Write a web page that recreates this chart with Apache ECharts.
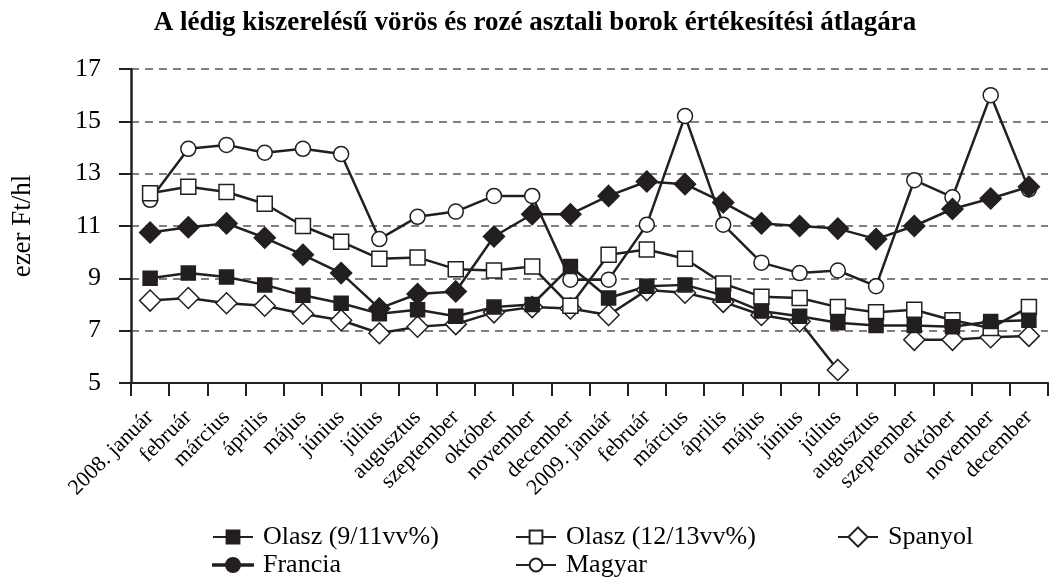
<!DOCTYPE html>
<html>
<head>
<meta charset="utf-8">
<script src="https://cdn.jsdelivr.net/npm/echarts@6/dist/echarts.min.js"></script>
<style>
  html, body { margin: 0; padding: 0; background: #fff; }
  #main { width: 1053px; height: 583px; }
</style>
</head>
<body>
<div id="main"></div>
<script>
// honapok (x tengely)
var honapok = ['2008. január', 'február', 'március', 'április', 'május', 'június', 'július',
  'augusztus', 'szeptember', 'október', 'november', 'december', '2009. január', 'február',
  'március', 'április', 'május', 'június', 'július', 'augusztus', 'szeptember', 'október',
  'november', 'december'];

// ezer Ft/hl
var olasz911 = [9.0, 9.2, 9.05, 8.75, 8.35, 8.05, 7.65, 7.8, 7.55, 7.9, 8.0, 9.45,
  8.25, 8.7, 8.75, 8.35, 7.75, 7.55, 7.3, 7.2, 7.2, 7.15, 7.35, 7.4];
var olasz1213 = [12.25, 12.5, 12.3, 11.85, 11.0, 10.4, 9.75, 9.8, 9.35, 9.3, 9.45, 7.95,
  9.9, 10.1, 9.75, 8.8, 8.3, 8.25, 7.9, 7.7, 7.8, 7.4, 7.1, 7.9];
var spanyol = [8.15, 8.25, 8.05, 7.95, 7.65, 7.4, 6.9, 7.15, 7.25, 7.7, 7.9, 7.85,
  7.6, 8.55, 8.45, 8.1, 7.6, 7.35, 5.5, null, 6.65, 6.65, 6.75, 6.8];
var francia = [10.75, 10.95, 11.1, 10.55, 9.9, 9.2, 7.85, 8.4, 8.5, 10.6, 11.45, 11.45,
  12.15, 12.7, 12.6, 11.9, 11.1, 11.0, 10.9, 10.5, 11.0, 11.65, 12.05, 12.5];
var magyar = [12.0, 13.95, 14.1, 13.8, 13.95, 13.75, 10.5, 11.35, 11.55, 12.15, 12.15, 8.95,
  8.95, 11.05, 15.2, 11.05, 9.6, 9.2, 9.3, 8.7, 12.75, 12.1, 16.0, 12.4];

var yTicks = [5, 7, 9, 11, 13, 15, 17];

var FONT = 'Liberation Serif';
var INK = '#231f20';

function sor(name, data, symbol, size, fill) {
  return {
    name: name,
    type: 'line',
    data: data,
    symbol: symbol,
    symbolSize: size,
    showAllSymbol: true,
    connectNulls: false,
    lineStyle: { color: INK, width: 2.5 },
    itemStyle: { color: fill, borderColor: INK, borderWidth: 1.5 },
    emphasis: { disabled: true }
  };
}

var legendText = { fontFamily: FONT, fontSize: 26, color: '#000', lineHeight: 26, padding: [0, 0, 0, 5] };
// vonal + telt kor a Francia jelmagyarazathoz
var korIkon = 'path://M0,7.2h40v1.6h-40z M13,8a7,7 0 1,0 14,0a7,7 0 1,0 -14,0z';

function jelmagyarazat(left, items, h) {
  return {
    left: left, top: 524, orient: 'vertical', padding: 0,
    itemWidth: 40, itemHeight: h || 16, itemGap: 2,
    selectedMode: false, textStyle: legendText, data: items
  };
}

let chart = echarts.init(document.getElementById('main'));
var option = {
  animation: false,
  title: {
    text: 'A lédig kiszerelésű vörös és rozé asztali borok értékesítési átlagára',
    left: 530,
    textAlign: 'center',
    top: 5,
    textStyle: { fontFamily: FONT, fontSize: 27, fontWeight: 'bold', color: '#000' }
  },
  grid: { left: 131, right: 5, top: 69, bottom: 200 },
  legend: [
    jelmagyarazat(212, [{ name: 'Olasz (9/11vv%)' }, { name: 'Francia', icon: korIkon }]),
    jelmagyarazat(515, [{ name: 'Olasz (12/13vv%)' }, { name: 'Magyar' }]),
    jelmagyarazat(837, [{ name: 'Spanyol' }], 24)
  ],
  xAxis: {
    type: 'category',
    data: honapok,
    boundaryGap: true,
    axisLine: { lineStyle: { color: INK, width: 2 } },
    axisTick: { show: true, interval: 0, length: 13, lineStyle: { color: INK, width: 2 } },
    axisLabel: {
      interval: 0, rotate: 45, margin: 31,
      fontFamily: FONT, fontSize: 22, color: '#000'
    }
  },
  yAxis: {
    type: 'value',
    min: yTicks[0],
    max: yTicks[yTicks.length - 1],
    interval: 2,
    name: 'ezer Ft/hl',
    nameLocation: 'middle',
    nameRotate: 90,
    nameGap: 95,
    nameTextStyle: { fontFamily: FONT, fontSize: 27, color: '#000' },
    axisLine: { show: true, lineStyle: { color: INK, width: 2.5 } },
    axisTick: { show: true, length: 12, lineStyle: { color: INK, width: 2 } },
    axisLabel: { margin: 30, fontFamily: FONT, fontSize: 26, color: '#000' },
    splitLine: { show: true, lineStyle: { color: '#555', width: 1.5, type: [8, 6] } }
  },
  series: [
    sor('Spanyol', spanyol, 'diamond', 21, '#fff'),
    sor('Magyar', magyar, 'circle', 15, '#fff'),
    sor('Olasz (12/13vv%)', olasz1213, 'rect', 15, '#fff'),
    sor('Olasz (9/11vv%)', olasz911, 'rect', 14, INK),
    sor('Francia', francia, 'diamond', 21, INK)
  ]
};

chart.setOption(option);
</script>
</body>
</html>
